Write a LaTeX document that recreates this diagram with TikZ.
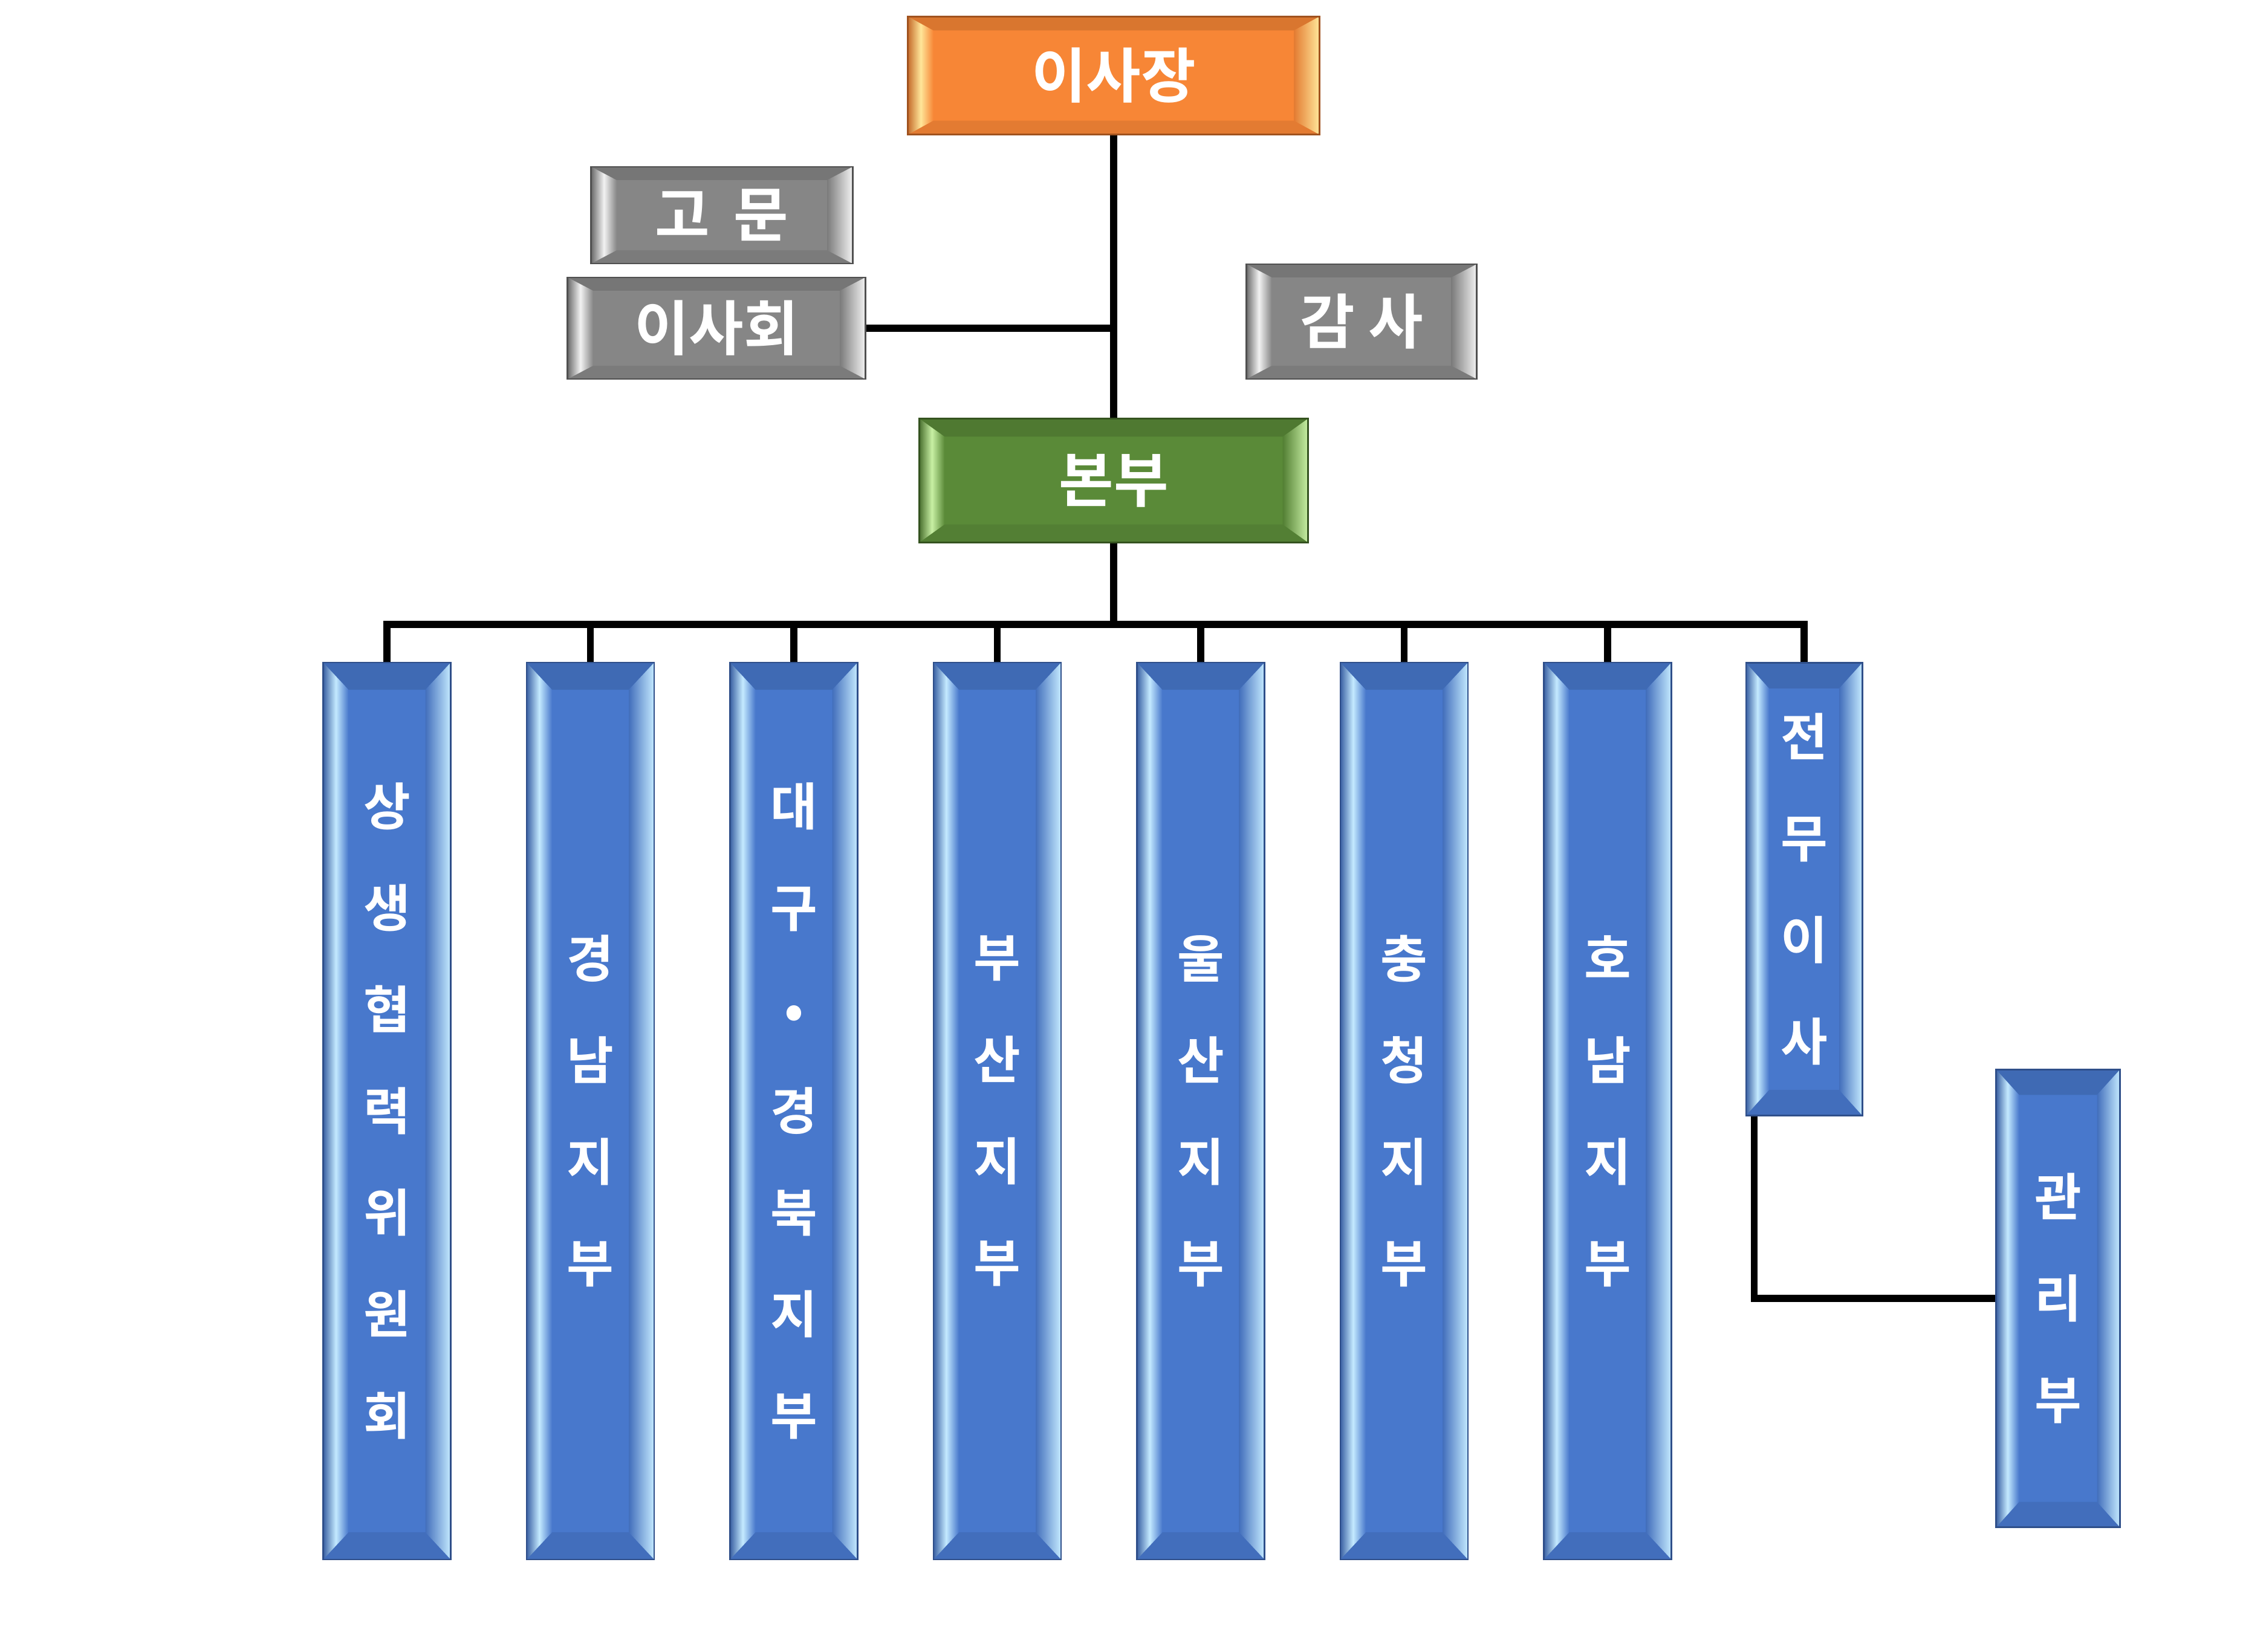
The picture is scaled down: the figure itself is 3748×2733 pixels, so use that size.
\documentclass[tikz,border=0pt]{standalone}
\usepackage{fontspec}
\newfontfamily\kofont{Noto Sans CJK KR Bold}
\usetikzlibrary{calc,positioning}

\definecolor{orgmain}{HTML}{F78636}
\definecolor{orglight}{HTML}{FFE699}
\definecolor{orgline}{HTML}{A0521E}
\definecolor{graymain}{HTML}{868686}
\definecolor{graylight}{HTML}{F2F2F2}
\definecolor{grayline}{HTML}{505050}
\definecolor{grnmain}{HTML}{5A8A38}
\definecolor{grnlight}{HTML}{C8F0A4}
\definecolor{grnline}{HTML}{34521F}
\definecolor{blumain}{HTML}{4878CC}
\definecolor{blulight}{HTML}{C4EAFF}
\definecolor{bluline}{HTML}{2F4F8A}

% bevel bands drawn inside the box
\newcommand{\bevelparts}[2]{%
  \path (path picture bounding box.south west) coordinate (sw)
        (path picture bounding box.north east) coordinate (ne);
  \path (sw) ++(\bevx,\bevy) coordinate (isw)
        (ne) ++(-\bevx,-\bevy) coordinate (ine);
  \fill[#1!88!black] (sw |- ne) -- (ne) -- (ine) -- (isw |- ine) -- cycle;
  \fill[#1!92!black] (sw) -- (sw -| ne) -- (ine |- isw) -- (isw) -- cycle;
  \shade[left color=#1!80!black, right color=#1, middle color=#2]
    (sw) -- (isw) -- (isw |- ine) -- (sw |- ne) -- cycle;
  \shade[left color=#1!92!black, right color=#2]
    (sw -| ne) -- (ne) -- (ine) -- (ine |- isw) -- cycle;
}

\tikzset{
  bevel x/.store in=\bevx, bevel y/.store in=\bevy,
  bevel x=0.42cm, bevel y=0.22cm,
  bevelbox/.style n args={3}{rectangle, draw=#3, line width=0.8pt, fill=#1,
    text=white, inner sep=0pt, path picture={\bevelparts{#1}{#2}}},
  orangebox/.style={bevelbox={orgmain}{orglight}{orgline},
    font=\kofont\fontsize{28}{34}\selectfont},
  graybox/.style={bevelbox={graymain}{graylight}{grayline},
    font=\kofont\fontsize{28}{34}\selectfont},
  greenbox/.style={bevelbox={grnmain}{grnlight}{grnline},
    font=\kofont\fontsize{28}{34}\selectfont},
  bluebox/.style={bevelbox={blumain}{blulight}{bluline}, align=center,
    bevel x=0.42cm, bevel y=0.45cm,
    font=\kofont\fontsize{24}{47.8}\selectfont},
  conn/.style={line width=3.2pt, black},
}

\begin{document}
\begin{tikzpicture}[x=0.01cm,y=-0.01cm]
  \useasboundingbox (0,0) rectangle (3748,2733);

  % top of the chart
  \node[orangebox, minimum width=6.8cm, minimum height=1.95cm, bevel y=0.23cm]
    (chair) at (1842,125) {이사장};
  \node[graybox, minimum width=4.32cm, minimum height=1.6cm] (advisor) at (1194,356) {고\hspace{0.4em}문};
  \node[graybox, minimum width=4.92cm, minimum height=1.68cm] (board) at (1185,543) {이사회};
  \node[graybox, minimum width=3.81cm, minimum height=1.9cm] (audit) at (2252,532) {감 사};
  \node[greenbox, minimum width=6.43cm, minimum height=2.05cm, bevel y=0.3cm]
    (hq) at (1842,795) {본부};

  % branches
  \foreach \i/\txt in {1/{상\\생\\협\\력\\위\\원\\회}, 2/{경\\남\\지\\부},
                       3/{대\\구\\•\\경\\북\\지\\부}, 4/{부\\산\\지\\부},
                       5/{울\\산\\지\\부}, 6/{충\\청\\지\\부}, 7/{호\\남\\지\\부}} {
    \node[bluebox, minimum width=2.11cm, minimum height=14.83cm]
      (c\i) at ({640+336.5*(\i-1)},1838) {\txt};
  }
  \node[bluebox, minimum width=1.92cm, minimum height=7.48cm, bevel x=0.38cm, bevel y=0.42cm]
    (exec) at (2984,1471) {전\\무\\이\\사};
  \node[bluebox, minimum width=2.05cm, minimum height=7.57cm, bevel x=0.38cm, bevel y=0.42cm]
    (mgmt) at (3404,2148) {관\\리\\부};

  % connectors
  \coordinate (bus) at (1842,1033);
  \draw[conn] (chair.south) -- (hq.north);
  \draw[conn] (board.east) -- (board.east -| chair.south);
  \draw[conn] (hq.south) -- (bus);
  \draw[conn] (c1.north) -- (c1.north |- bus) -- (exec.north |- bus) -- (exec.north);
  \foreach \i in {2,...,7} {
    \draw[conn] (c\i.north) -- (c\i.north |- bus);
  }
  \draw[conn] ([xshift=0.15cm]exec.south west) |- (mgmt.west);
\end{tikzpicture}
\end{document}
